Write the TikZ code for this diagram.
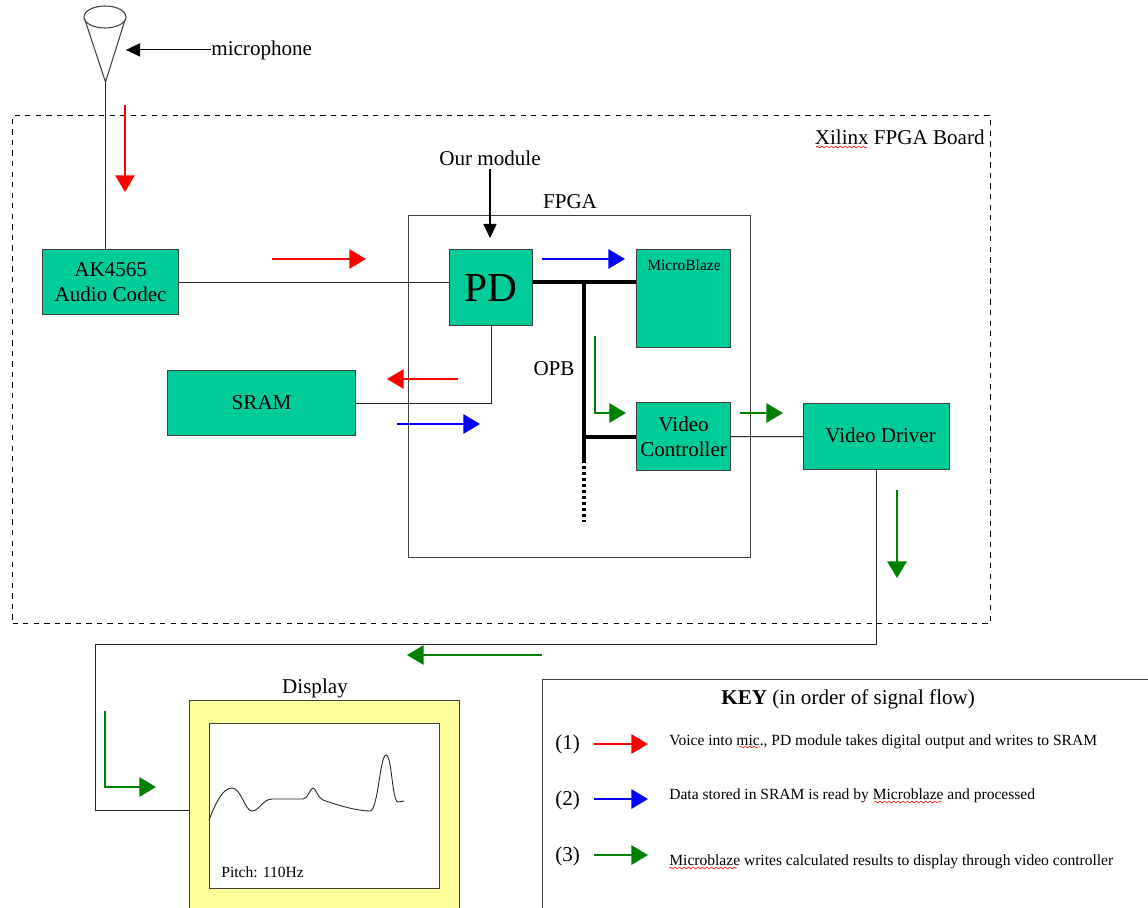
\documentclass[tikz,border=0pt]{standalone}
\usepackage{fontspec}
\setmainfont{Liberation Serif}
\usepackage{tikz}
\usetikzlibrary{positioning,arrows.meta,calc,decorations.pathmorphing}
\usepackage{xcolor}
\definecolor{blockgreen}{HTML}{00CC99}
\definecolor{screenyellow}{HTML}{FFFF99}
\definecolor{flowgreen}{HTML}{008000}
\definecolor{flowred}{HTML}{FF0000}
\definecolor{flowblue}{HTML}{0000FF}
\tikzset{
    block/.style={draw=black!75, line width=0.7pt, fill=blockgreen, inner sep=0pt, anchor=north west, align=center, font=\fontsize{12}{14.5}\selectfont},
    frame/.style={draw=black!75, line width=0.7pt, inner sep=0pt, anchor=north west},
    lbl/.style={inner sep=0pt, yshift=-1.1pt, font=\fontsize{12}{14}\selectfont},
    small/.style={inner sep=0pt, yshift=-1.1pt, font=\fontsize{8.85}{10}\selectfont},
    wire/.style={draw=black!85, line width=0.6pt},
    bus/.style={draw=black, line width=2.2pt},
    flow/.style={line width=1.2pt, -{Triangle[length=9.5pt, width=11pt]}},
    pointer/.style={draw=black, line width=0.6pt, -{Triangle[length=8pt, width=7.5pt]}},
    squiggle/.style={draw=flowred, line width=0.3pt, decorate, decoration={snake, amplitude=0.5pt, segment length=2.6pt}},
}

\begin{document}
\begin{tikzpicture}[x=0.02cm, y=-0.02cm]
    \useasboundingbox (0,0) rectangle (1148,907);
    \clip (0,0) rectangle (1148,907);

    % board and chip outlines
    \node[frame, dashed, draw=black, minimum width=19.56cm, minimum height=10.16cm] (board) at (12,115) {};
    \node[frame, minimum width=6.84cm, minimum height=6.84cm] (fpga) at (408,215) {};
    \node[lbl, anchor=east] (boardlabel) at (985,135) {Xilinx FPGA Board};
    \node[lbl] (fpgalabel) at (570,200) {FPGA};
    \node[lbl] (modulelabel) at (490,156) {Our module};
    \node[lbl, anchor=west] (miclabel) at (211,48) {microphone};
    \node[lbl] (opblabel) at (554,367) {OPB};
    \draw[squiggle] (816,147) -- (867,147);

    % microphone
    \draw[draw=black!75, line width=0.6pt] (105,17) ellipse (21 and 11);
    \coordinate (mictip) at (105.5,82);
    \coordinate (micleft) at (85,20);
    \coordinate (micright) at (125,20);
    \draw[draw=black!75, line width=0.6pt] (micleft) -- (mictip) -- (micright);
    \coordinate (micside) at (126,50);

    % blocks
    \node[block, minimum width=2.72cm, minimum height=1.3cm] (codec) at (42,249) {AK4565\\Audio Codec};
    \node[block, minimum width=1.66cm, minimum height=1.52cm, font=\fontsize{23.5}{26}\selectfont] (pd) at (449,249) {PD};
    \node[block, minimum width=1.88cm, minimum height=1.96cm] (mb) at (636,249) {};
    \node[small] (mblabel) at (684,263) {MicroBlaze};
    \node[block, minimum width=3.76cm, minimum height=1.3cm] (sram) at (167,370) {SRAM};
    \node[block, minimum width=1.88cm, minimum height=1.36cm] (vc) at (636,402) {Video\\Controller};
    \node[block, minimum width=2.92cm, minimum height=1.32cm] (vd) at (803,403) {\hspace*{0.16cm}\raisebox{1.1pt}{Video Driver}};

    % wires
    \draw[wire] (mictip) -- (mictip |- codec.north);
    \draw[wire] (codec.east) -- (codec.east -| pd.west);
    \draw[wire] (pd.south) |- (sram.east);
    \draw[wire] (vc.east) -- (vd.west);
    \coordinate (runb) at (95.5,644.5);
    \coordinate (runc) at (95.5,810.5);
    \draw[pointer] (miclabel.west) -- (miclabel.west -| micside);
    \coordinate (modulefoot) at (490,238);
    \draw[pointer] (modulelabel.south) ++(0,3) -- (modulefoot);

    % OPB bus
    \coordinate (bustop) at (584,282);
    \coordinate (busend) at (584,460);
    \coordinate (busdots) at (584,522);
    \draw[bus] (codec.east -| pd.east) -- (codec.east -| mb.west);
    \draw[bus] (bustop) -- (busend);
    \draw[bus, dash pattern=on 1.7pt off 1.7pt] (busend) -- (busdots);
    \draw[bus] (vc.west -| bustop) -- (vc.west);

    % display
    \node[frame, fill=screenyellow, minimum width=5.4cm, minimum height=4.8cm] (disp) at (189,700) {};
    \node[frame, fill=white, minimum width=4.6cm, minimum height=3.3cm] (screen) at (209,723) {};
    \node[lbl] (displabel) at (315,687) {Display};
    \node[small, anchor=west] (pitch) at (221,870) {Pitch: 110Hz};
    \draw[draw=black!85, line width=0.5pt] (209,820) .. controls (216,802) and (223,788) .. (232,788)
        .. controls (241,788) and (245,811) .. (252,811) .. controls (259,811) and (263,799) .. (272,799)
        -- (303,799) .. controls (308,799) and (310,788) .. (313,788) .. controls (316,788) and (317,797) .. (323,800)
        .. controls (340,806) and (358,811) .. (370,811) .. controls (378,811) and (380,755) .. (386,755)
        .. controls (392,755) and (392,802) .. (398,802) -- (404,801);
    \draw[wire] (vd.south) -- (vd.south |- runb) -- (runb) -- (runc) -- (runc -| disp.west);

    % signal flow arrows
    \coordinate (ra) at (125,105); \coordinate (rb) at (125,192);
    \coordinate (rc) at (272,259); \coordinate (rd) at (366,259);
    \coordinate (re) at (458,379); \coordinate (rf) at (387,379);
    \draw[flow, flowred] (ra) -- (rb);
    \draw[flow, flowred] (rc) -- (rd);
    \draw[flow, flowred] (re) -- (rf);
    \coordinate (ba) at (397,424); \coordinate (bb) at (480,424);
    \coordinate (bc) at (542,259); \coordinate (bd) at (625,259);
    \draw[flow, flowblue] (ba) -- (bb);
    \draw[flow, flowblue] (bc) -- (bd);
    \coordinate (ga) at (595,336); \coordinate (gb) at (595,413); \coordinate (gc) at (626,413);
    \coordinate (gd) at (740,413); \coordinate (ge) at (783,413);
    \coordinate (gf) at (897,490); \coordinate (gg) at (897,578);
    \coordinate (gh) at (542,655); \coordinate (gi) at (407,655);
    \coordinate (gj) at (105,711); \coordinate (gk) at (105,787); \coordinate (gl) at (156,787);
    \draw[flow, flowgreen] (ga) -- (gb) -- (gc);
    \draw[flow, flowgreen] (gd) -- (ge);
    \draw[flow, flowgreen] (gf) -- (gg);
    \draw[flow, flowgreen] (gh) -- (gi);
    \draw[flow, flowgreen] (gj) -- (gk) -- (gl);

    % key
    \node[frame, minimum width=13cm, minimum height=5.2cm] (key) at (542,679) {};
    \node[lbl, anchor=west] (keytitle) at (721,697) {\textbf{KEY} (in order of signal flow)};
    \node[lbl, anchor=west] (keyone) at (555,742) {(1)};
    \node[lbl, anchor=west] (keytwo) at (555,798) {(2)};
    \node[lbl, anchor=west] (keythree) at (555,854) {(3)};
    \coordinate (ka) at (594,744); \coordinate (kb) at (648,744);
    \coordinate (kc) at (594,799); \coordinate (kd) at (648,799);
    \coordinate (ke) at (594,855); \coordinate (kf) at (648,855);
    \draw[flow, flowred] (ka) -- (kb);
    \draw[flow, flowblue] (kc) -- (kd);
    \draw[flow, flowgreen] (ke) -- (kf);
    \node[small, anchor=west] (keyvoice) at (669,740) {Voice into mic., PD module takes digital output and writes to SRAM};
    \node[small, anchor=west] (keydata) at (669,794) {Data stored in SRAM is read by Microblaze and processed};
    \node[small, anchor=west] (keycalc) at (669,860) {Microblaze writes calculated results to display through video controller};
    \draw[squiggle] (739,747) -- (760,747);
    \draw[squiggle] (874,802) -- (941,802);
    \draw[squiggle] (669,868) -- (737,868);
\end{tikzpicture}
\end{document}
